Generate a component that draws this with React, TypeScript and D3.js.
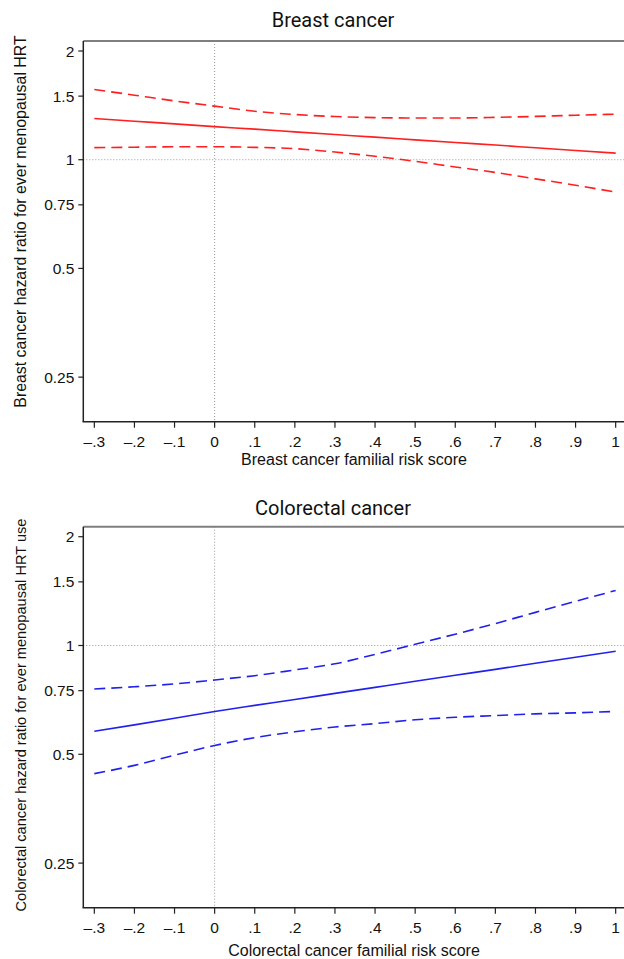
import React from 'react';
import * as d3 from 'd3';

// familial risk score grid the curves are read at
const riskScore = [-0.3, -0.2, -0.1, 0, 0.1, 0.2, 0.3, 0.4, 0.5, 0.6, 0.7, 0.8, 0.9, 1];

// breast cancer: HR for ever menopausal HRT + 95% CI
const breastHR = [1.3, 1.278, 1.257, 1.235, 1.215, 1.194, 1.174, 1.155, 1.135, 1.116, 1.098, 1.079, 1.061, 1.043];
const breastLo = [1.08, 1.083, 1.086, 1.086, 1.082, 1.073, 1.05, 1.022, 0.99, 0.955, 0.922, 0.885, 0.85, 0.813];
const breastHi = [1.565, 1.509, 1.455, 1.407, 1.362, 1.334, 1.317, 1.308, 1.305, 1.305, 1.31, 1.318, 1.328, 1.337];

// colorectal cancer
const crcHR = [0.579, 0.603, 0.629, 0.657, 0.683, 0.709, 0.737, 0.766, 0.796, 0.827, 0.859, 0.893, 0.928, 0.964];
const crcLo = [0.442, 0.466, 0.497, 0.529, 0.556, 0.577, 0.595, 0.608, 0.623, 0.633, 0.64, 0.647, 0.651, 0.657];
const crcHi = [0.758, 0.769, 0.783, 0.803, 0.825, 0.856, 0.89, 0.945, 1.008, 1.075, 1.15, 1.235, 1.325, 1.42];

const xTicks = [-0.3, -0.2, -0.1, 0, 0.1, 0.2, 0.3, 0.4, 0.5, 0.6, 0.7, 0.8, 0.9, 1];
const xTickLabels = ['\u2013.3', '\u2013.2', '\u2013.1', '0', '.1', '.2', '.3', '.4', '.5', '.6', '.7', '.8', '.9', '1'];
const yTicks = [0.25, 0.5, 0.75, 1, 1.5, 2];
const yTickLabels = ['0.25', '0.5', '0.75', '1', '1.5', '2'];

const W = 624;
const H = 959;
const tickFont = '"Liberation Sans", Arial, sans-serif';

type PanelProps = {
  top: number;
  bottom: number;
  title: string;
  titleY: number;
  xLabel: string;
  xLabelY: number;
  yLabel: string;
  yLabelSize: number;
  yLabelX: number;
  yLabelY: number;
  color: string;
  hr: number[];
  lo: number[];
  hi: number[];
};

const Panel = (p: PanelProps) => {
  const left = 83.3;
  const right = 626.7;
  const x = d3.scaleLinear().domain([-0.3275, 1.0275]).range([left, right]);
  const y = d3.scaleLog().base(2).domain([Math.pow(2, -2.41), Math.pow(2, 1.092)]).range([p.bottom, p.top]);

  const line = (vals: number[]) =>
    d3.line<number>()
      .x((_, i) => x(riskScore[i]))
      .y(d => y(d))
      .curve(d3.curveMonotoneX)(vals) || '';

  return (
    <g>
      <text x={333} y={p.titleY} textAnchor="middle" dominantBaseline="central"
        fontFamily="Roboto, sans-serif" fontSize={20} fill="#111">{p.title}</text>

      {/* reference lines */}
      <line x1={left} x2={right} y1={y(1)} y2={y(1)} stroke="#999" strokeWidth={1} strokeDasharray="1,2" />
      <line x1={x(0)} x2={x(0)} y1={p.top} y2={p.bottom} stroke="#999" strokeWidth={1} strokeDasharray="1,2" />

      {/* frame */}
      <line x1={left} x2={right} y1={p.top} y2={p.top} stroke="#7f7f7f" strokeWidth={2} />
      <line x1={left} x2={left} y1={p.top} y2={p.bottom} stroke="#222" strokeWidth={1.5} />
      <line x1={left - 0.75} x2={right} y1={p.bottom} y2={p.bottom} stroke="#222" strokeWidth={1.5} />

      {/* curves */}
      <path d={line(p.hi)} fill="none" stroke={p.color} strokeWidth={1.6} strokeDasharray="11,6" />
      <path d={line(p.lo)} fill="none" stroke={p.color} strokeWidth={1.6} strokeDasharray="11,6" />
      <path d={line(p.hr)} fill="none" stroke={p.color} strokeWidth={1.6} />

      {/* y axis */}
      {yTicks.map((t, i) => (
        <g key={'y' + t}>
          <line x1={left - 5} x2={left} y1={y(t)} y2={y(t)} stroke="#222" strokeWidth={1.2} />
          <text x={left - 9} y={y(t)} textAnchor="end" dominantBaseline="central"
            fontFamily={tickFont} fontSize={15.5} fill="#111">{yTickLabels[i]}</text>
        </g>
      ))}

      {/* x axis */}
      {xTicks.map((t, i) => (
        <g key={'x' + t}>
          <line x1={x(t)} x2={x(t)} y1={p.bottom} y2={p.bottom + 6} stroke="#222" strokeWidth={1.2} />
          <text x={x(t)} y={p.bottom + 19.5} textAnchor="middle" dominantBaseline="central"
            fontFamily={tickFont} fontSize={15.5} fill="#111">{xTickLabels[i]}</text>
        </g>
      ))}

      <text x={354} y={p.xLabelY} textAnchor="middle" dominantBaseline="central"
        fontFamily={tickFont} fontSize={16} fill="#111">{p.xLabel}</text>
      <text transform={`translate(${p.yLabelX},${p.yLabelY}) rotate(-90)`} textAnchor="middle"
        dominantBaseline="central" fontFamily={tickFont} fontSize={p.yLabelSize} fill="#111">{p.yLabel}</text>
    </g>
  );
};

export default function App() {
  return (
    <svg width={W} height={H} style={{ position: 'absolute', left: 0, top: 0, background: '#fff' }}>
      <rect width={W} height={H} fill="#fff" />
      <Panel top={41} bottom={421.7} title="Breast cancer" titleY={20}
        xLabel="Breast cancer familial risk score" xLabelY={459}
        yLabel="Breast cancer hazard ratio for ever menopausal HRT" yLabelSize={15.9}
        yLabelX={20} yLabelY={221.5}
        color="#ff1f1f" hr={breastHR} lo={breastLo} hi={breastHi} />
      <Panel top={526.7} bottom={907.7} title="Colorectal cancer" titleY={508}
        xLabel="Colorectal cancer familial risk score" xLabelY={950}
        yLabel="Colorectal cancer hazard ratio for ever menopausal HRT use" yLabelSize={14.6}
        yLabelX={21} yLabelY={715}
        color="#2121ee" hr={crcHR} lo={crcLo} hi={crcHi} />
    </svg>
  );
}
